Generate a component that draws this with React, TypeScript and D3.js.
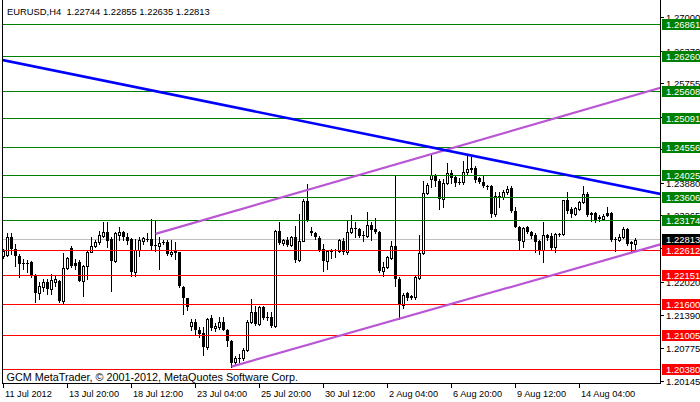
import { useEffect, useRef } from 'react';
import * as d3 from 'd3';

// EURUSD H4 candles (bar 0 = first visible bar)
const opens = [
  1.22505, 1.22537, 1.22876, 1.22644, 1.22505, 1.22386, 1.22367, 1.22392, 1.22141, 1.21808,
  1.21934, 1.22015, 1.21891, 1.22015, 1.22034, 1.21658, 1.22292, 1.22668, 1.22373, 1.22392,
  1.22047, 1.2233, 1.22593, 1.22693, 1.22768, 1.22894, 1.2297, 1.22832, 1.22411, 1.22913,
  1.22956, 1.22862, 1.22832, 1.22217, 1.22625, 1.228, 1.22832, 1.22832, 1.22725, 1.22693,
  1.22749, 1.22781, 1.2255, 1.22612, 1.2258, 1.21934, 1.21714, 1.21187, 1.21275, 1.21125,
  1.21055, 1.20805, 1.21345, 1.21157, 1.21181, 1.21262, 1.21119, 1.20918, 1.20509, 1.2057,
  1.20592, 1.20743, 1.21262, 1.21464, 1.21232, 1.21558, 1.2137, 1.2137, 1.212, 1.22988,
  1.22749, 1.22813, 1.22719, 1.22876, 1.22437, 1.228, 1.23553, 1.22975, 1.22938, 1.22851,
  1.22644, 1.22411, 1.22599, 1.22599, 1.22599, 1.228, 1.2258, 1.22956, 1.23039, 1.2302,
  1.22913, 1.22881, 1.23101, 1.2302, 1.2297, 1.22222, 1.22298, 1.22475, 1.22706, 1.22079,
  1.21596, 1.21808, 1.21752, 1.21733, 1.22098, 1.22569, 1.23698, 1.23962, 1.24037, 1.2393,
  1.23585, 1.23886, 1.24075, 1.23992, 1.23911, 1.23898, 1.24086, 1.24169, 1.24169, 1.23973,
  1.23911, 1.23836, 1.23836, 1.23303, 1.23647, 1.23615, 1.23709, 1.23785, 1.23365, 1.23064,
  1.228, 1.23051, 1.2297, 1.22908, 1.228, 1.22631, 1.22908, 1.22894, 1.22674, 1.22904,
  1.22926, 1.23566, 1.23397, 1.23303, 1.23397, 1.23521, 1.23679, 1.23322, 1.23322, 1.23239,
  1.23209, 1.23322, 1.23322, 1.22813, 1.22819, 1.22876, 1.2302, 1.22768, 1.22744,
];
const highs = [
  1.2265, 1.22938, 1.22938, 1.22744, 1.22556, 1.22461, 1.22443, 1.22424, 1.22179, 1.22015,
  1.22085, 1.22085, 1.22179, 1.22141, 1.22066, 1.22561, 1.22486, 1.22706, 1.22461, 1.22443,
  1.22348, 1.22612, 1.22862, 1.22813, 1.22988, 1.23145, 1.23145, 1.22862, 1.22956, 1.23051,
  1.22988, 1.22938, 1.22851, 1.22832, 1.22862, 1.22862, 1.22938, 1.23209, 1.23177, 1.22862,
  1.22813, 1.22813, 1.22813, 1.22768, 1.22593, 1.21948, 1.21722, 1.21326, 1.21326, 1.21168,
  1.21181, 1.21345, 1.21407, 1.21243, 1.21356, 1.2137, 1.21138, 1.20931, 1.20635, 1.20673,
  1.2078, 1.21307, 1.21703, 1.21577, 1.21577, 1.21564, 1.21451, 1.21451, 1.23002, 1.23145,
  1.22832, 1.22862, 1.22894, 1.23083, 1.23303, 1.23585, 1.23868, 1.23051, 1.22956, 1.22894,
  1.22738, 1.22625, 1.22644, 1.22644, 1.22832, 1.22851, 1.23164, 1.2329, 1.23145, 1.23039,
  1.22988, 1.23346, 1.23145, 1.2322, 1.22988, 1.22392, 1.22518, 1.228, 1.24024, 1.22109,
  1.21808, 1.21827, 1.21784, 1.2216, 1.22913, 1.23916, 1.23886, 1.24413, 1.24056, 1.23962,
  1.23962, 1.24255, 1.24137, 1.24037, 1.23973, 1.24306, 1.244, 1.24368, 1.24199, 1.23992,
  1.24024, 1.23849, 1.23849, 1.23723, 1.23709, 1.2376, 1.23836, 1.23836, 1.2344, 1.23083,
  1.23051, 1.23069, 1.22988, 1.22945, 1.22819, 1.23145, 1.22926, 1.22945, 1.22945, 1.22951,
  1.23572, 1.23723, 1.23427, 1.23427, 1.23553, 1.23836, 1.23709, 1.23333, 1.23333, 1.23284,
  1.23303, 1.23427, 1.23346, 1.22862, 1.22926, 1.23051, 1.23032, 1.228, 1.22855,
];
const lows = [
  1.2248, 1.22518, 1.22556, 1.2233, 1.22109, 1.22273, 1.22204, 1.22123, 1.21639, 1.21708,
  1.21859, 1.21803, 1.21803, 1.21953, 1.21652, 1.21609, 1.22273, 1.22311, 1.22273, 1.22034,
  1.21765, 1.22079, 1.2258, 1.22674, 1.22738, 1.22876, 1.22674, 1.21859, 1.22405, 1.22813,
  1.22813, 1.22738, 1.22141, 1.22141, 1.22518, 1.22738, 1.22787, 1.22625, 1.22612, 1.22268,
  1.22738, 1.22537, 1.22518, 1.22456, 1.21925, 1.2142, 1.21496, 1.21119, 1.21044, 1.2098,
  1.20654, 1.20762, 1.21119, 1.21106, 1.21138, 1.21115, 1.20824, 1.20428, 1.20466, 1.20509,
  1.20555, 1.20716, 1.21243, 1.21219, 1.21219, 1.21326, 1.21307, 1.21168, 1.21168, 1.22738,
  1.22725, 1.22706, 1.22693, 1.22392, 1.22411, 1.22787, 1.23177, 1.22913, 1.22832, 1.22612,
  1.22222, 1.22268, 1.22475, 1.22486, 1.2258, 1.2255, 1.2255, 1.22938, 1.22876, 1.22862,
  1.22787, 1.22876, 1.22813, 1.22938, 1.22204, 1.22141, 1.22286, 1.22456, 1.21953, 1.21326,
  1.21533, 1.21684, 1.21703, 1.21703, 1.22079, 1.2255, 1.23679, 1.23804, 1.23836, 1.23397,
  1.23427, 1.23868, 1.23886, 1.23822, 1.23868, 1.23868, 1.24056, 1.24099, 1.23911, 1.23886,
  1.23804, 1.23773, 1.23239, 1.23258, 1.23427, 1.23585, 1.23679, 1.23333, 1.23051, 1.22631,
  1.22674, 1.22945, 1.22844, 1.2258, 1.2255, 1.22405, 1.22819, 1.22631, 1.22593, 1.22885,
  1.22908, 1.23322, 1.23239, 1.23284, 1.23384, 1.2351, 1.23258, 1.23177, 1.23158, 1.23177,
  1.23196, 1.23258, 1.228, 1.22612, 1.228, 1.22844, 1.22719, 1.22612, 1.22635,
];
const closes = [
  1.22612, 1.22876, 1.22644, 1.22505, 1.22362, 1.22367, 1.22386, 1.22141, 1.21808, 1.21953,
  1.22028, 1.21891, 1.22066, 1.22085, 1.21658, 1.22292, 1.2248, 1.2233, 1.2233, 1.22047,
  1.2233, 1.22593, 1.22706, 1.22781, 1.22913, 1.2297, 1.22787, 1.22411, 1.22938, 1.22956,
  1.22862, 1.228, 1.22217, 1.22625, 1.22819, 1.22844, 1.22813, 1.22706, 1.227, 1.22757,
  1.22781, 1.2255, 1.22593, 1.22561, 1.21944, 1.21722, 1.21558, 1.21275, 1.21119, 1.21044,
  1.20805, 1.21326, 1.21157, 1.212, 1.21262, 1.21125, 1.20905, 1.20491, 1.20592, 1.20589,
  1.20743, 1.21262, 1.21464, 1.21232, 1.21558, 1.21345, 1.21345, 1.212, 1.22988, 1.22749,
  1.22813, 1.22719, 1.22876, 1.22437, 1.228, 1.23553, 1.2319, 1.22938, 1.22862, 1.22625,
  1.22411, 1.22599, 1.2258, 1.22625, 1.22813, 1.2258, 1.22956, 1.23039, 1.23013, 1.22894,
  1.22881, 1.23101, 1.23007, 1.22956, 1.22222, 1.22311, 1.22486, 1.22706, 1.22079, 1.21596,
  1.21784, 1.21714, 1.21722, 1.22109, 1.22569, 1.23698, 1.23854, 1.24037, 1.23916, 1.23585,
  1.23886, 1.24075, 1.23973, 1.23886, 1.23886, 1.24099, 1.2415, 1.24137, 1.23948, 1.23911,
  1.23822, 1.23822, 1.23303, 1.23634, 1.23615, 1.23709, 1.23773, 1.23352, 1.23064, 1.228,
  1.23032, 1.22956, 1.22894, 1.22781, 1.22631, 1.22908, 1.22844, 1.22655, 1.22926, 1.22926,
  1.23566, 1.23365, 1.23303, 1.23408, 1.23534, 1.23679, 1.23284, 1.23284, 1.23177, 1.23209,
  1.23271, 1.23271, 1.22819, 1.22832, 1.22876, 1.2302, 1.22738, 1.22738, 1.22813,
];

const priceTicks = [1.27, 1.2637, 1.25755, 1.25125, 1.2451, 1.2388, 1.23265, 1.2265, 1.2202, 1.2139, 1.20775, 1.20145];
const timeLabels = ['11 Jul 2012', '13 Jul 20:00', '18 Jul 12:00', '23 Jul 04:00', '25 Jul 20:00', '30 Jul 12:00', '2 Aug 04:00', '6 Aug 20:00', '9 Aug 12:00', '14 Aug 04:00'];
const barsPerLabel = 16;

const resistanceLevels = [1.26861, 1.2626, 1.25608, 1.25091, 1.24556, 1.24025, 1.23606, 1.23174];
const supportLevels = [1.22612, 1.22151, 1.216, 1.21005, 1.2038];
const bidPrice = 1.22813;

// trend lines as [bar, price] anchors
const downTrend: [number, number][] = [[0, 1.26196], [150, 1.23896]];
const upperChannel: [number, number][] = [[38, 1.22926], [150, 1.25368]];
const lowerChannel: [number, number][] = [[57, 1.20428], [150, 1.22424]];

const headerText = 'EURUSD,H4  1.22744 1.22855 1.22635 1.22813';
const copyrightText = 'GCM MetaTrader, \u00A9 2001-2012, MetaQuotes Software Corp.';

const W = 700;
const H = 402;
const FONT = "'Liberation Sans', Arial, sans-serif";

export default function App() {
  const svgRef = useRef<SVGSVGElement>(null);

  useEffect(() => {
    document.body.style.margin = '0';
    if (!svgRef.current) return;
    const svg = d3.select(svgRef.current);
    svg.selectAll('*').remove();

    const left = 2;
    const right = 660;
    const bottom = 383;

    const n = opens.length;
    const x = d3.scaleLinear().domain([0, n - 1]).range([3.5, 635.5]);
    const y = d3.scaleLinear().domain([1.20145, 1.27]).range([381.6, 17.6]);
    const py = (p: number) => Math.floor(y(p)) + 0.5;
    const fmt = d3.format('.5f');

    svg.attr('width', W).attr('height', H).style('display', 'block').style('background', '#fff');

    svg
      .append('defs')
      .append('clipPath')
      .attr('id', 'plot-clip')
      .append('rect')
      .attr('x', left + 1)
      .attr('y', 0)
      .attr('width', right - left - 1)
      .attr('height', bottom);

    const plot = svg.append('g').attr('clip-path', 'url(#plot-clip)');

    // bid line behind the bars
    plot
      .append('line')
      .attr('x1', left)
      .attr('x2', right)
      .attr('y1', py(bidPrice))
      .attr('y2', py(bidPrice))
      .attr('stroke', '#c0c0c0')
      .attr('stroke-width', 1);

    // --- candles ---
    const bars = d3.range(n).map((i) => ({ i, o: opens[i], h: highs[i], l: lows[i], c: closes[i] }));
    const cg = plot.append('g').attr('shape-rendering', 'crispEdges');

    cg.selectAll('.wick')
      .data(bars)
      .enter()
      .append('line')
      .attr('x1', (d) => x(d.i))
      .attr('x2', (d) => x(d.i))
      .attr('y1', (d) => Math.round(y(d.h)))
      .attr('y2', (d) => Math.round(y(d.l)) + 1)
      .attr('stroke', '#000')
      .attr('stroke-width', 1);

    bars.forEach((d) => {
      const top = Math.round(y(Math.max(d.o, d.c)));
      const bot = Math.round(y(Math.min(d.o, d.c)));
      const h = bot - top;
      if (d.c > d.o && h >= 2) {
        cg.append('rect')
          .attr('x', x(d.i) - 1)
          .attr('y', top + 0.5)
          .attr('width', 2)
          .attr('height', h)
          .attr('fill', '#fff')
          .attr('stroke', '#000')
          .attr('stroke-width', 1);
      } else {
        cg.append('rect')
          .attr('x', x(d.i) - 1.5)
          .attr('y', top)
          .attr('width', 3)
          .attr('height', Math.max(h, 1))
          .attr('fill', '#000');
      }
    });

    // --- horizontal levels ---
    const levels = [
      ...resistanceLevels.map((p) => ({ p, color: '#008000' })),
      ...supportLevels.map((p) => ({ p, color: '#ff0000' })),
    ];
    plot
      .selectAll('.level')
      .data(levels)
      .enter()
      .append('line')
      .attr('x1', left)
      .attr('x2', right)
      .attr('y1', (d) => py(d.p))
      .attr('y2', (d) => py(d.p))
      .attr('stroke', (d) => d.color)
      .attr('stroke-width', 1)
      .attr('shape-rendering', 'crispEdges');

    // --- trend lines ---
    const lineThrough = (pts: [number, number][], fromBar: number, toBar: number) => {
      const [[b0, p0], [b1, p1]] = pts;
      const slope = (p1 - p0) / (b1 - b0);
      const at = (b: number) => p0 + slope * (b - b0);
      return [
        [x(fromBar), y(at(fromBar))],
        [x(toBar), y(at(toBar))],
      ] as [number, number][];
    };
    const line = d3.line<[number, number]>();
    const endBar = x.invert(right + 10);
    const startBar = x.invert(left - 10);

    plot
      .append('path')
      .attr('d', line(lineThrough(upperChannel, upperChannel[0][0], endBar)))
      .attr('stroke', '#ba55d3')
      .attr('stroke-width', 2.2)
      .attr('fill', 'none');
    plot
      .append('path')
      .attr('d', line(lineThrough(lowerChannel, lowerChannel[0][0], endBar)))
      .attr('stroke', '#ba55d3')
      .attr('stroke-width', 2.2)
      .attr('fill', 'none');
    plot
      .append('path')
      .attr('d', line(lineThrough(downTrend, startBar, endBar)))
      .attr('stroke', '#0000ff')
      .attr('stroke-width', 2.6)
      .attr('fill', 'none');

    // --- frame ---
    const frame = svg.append('g').attr('stroke', '#000').attr('stroke-width', 1).attr('shape-rendering', 'crispEdges');
    frame.append('line').attr('x1', left + 0.5).attr('x2', left + 0.5).attr('y1', 0).attr('y2', bottom + 1);
    frame.append('line').attr('x1', right + 0.5).attr('x2', right + 0.5).attr('y1', 0).attr('y2', bottom + 1);
    frame.append('line').attr('x1', left).attr('x2', right + 1).attr('y1', bottom + 0.5).attr('y2', bottom + 0.5);

    // --- price axis ---
    priceTicks.forEach((p) => {
      frame.append('line').attr('x1', right).attr('x2', right + 4).attr('y1', py(p)).attr('y2', py(p));
      svg
        .append('text')
        .attr('x', 666)
        .attr('y', y(p) + 3.5)
        .attr('fill', '#000')
        .attr('font-family', FONT)
        .attr('font-size', 9.5)
        .text(fmt(p));
    });

    const tags = [
      ...resistanceLevels.map((p) => ({ p, bg: '#008000' })),
      { p: bidPrice, bg: '#000000' },
      ...supportLevels.map((p) => ({ p, bg: '#ff0000' })),
    ];
    tags.forEach((t) => {
      const cy = py(t.p);
      svg
        .append('rect')
        .attr('x', right + 2)
        .attr('y', Math.round(cy - 5.5))
        .attr('width', W - right - 2)
        .attr('height', 11)
        .attr('fill', t.bg);
      svg
        .append('text')
        .attr('x', 666)
        .attr('y', cy + 3.5)
        .attr('fill', '#fff')
        .attr('font-family', FONT)
        .attr('font-size', 9.5)
        .text(fmt(t.p));
    });

    // --- time axis ---
    timeLabels.forEach((label, k) => {
      const tx = Math.floor(x(k * barsPerLabel)) + 0.5;
      frame.append('line').attr('x1', tx).attr('x2', tx).attr('y1', bottom).attr('y2', bottom + 5);
      svg
        .append('text')
        .attr('x', tx + 1.5)
        .attr('y', 396.5)
        .attr('fill', '#000')
        .attr('font-family', FONT)
        .attr('font-size', 9.2)
        .text(label);
    });

    // --- header and copyright ---
    svg
      .append('text')
      .attr('x', 7)
      .attr('y', 15)
      .attr('fill', '#000')
      .attr('font-family', FONT)
      .attr('font-size', 9.4)
      .attr('xml:space', 'preserve')
      .style('white-space', 'pre')
      .text(headerText);
    svg
      .append('text')
      .attr('x', 6.5)
      .attr('y', 380.5)
      .attr('fill', '#000')
      .attr('font-family', FONT)
      .attr('font-size', 10.8)
      .text(copyrightText);
  }, []);

  return <svg ref={svgRef} />;
}
